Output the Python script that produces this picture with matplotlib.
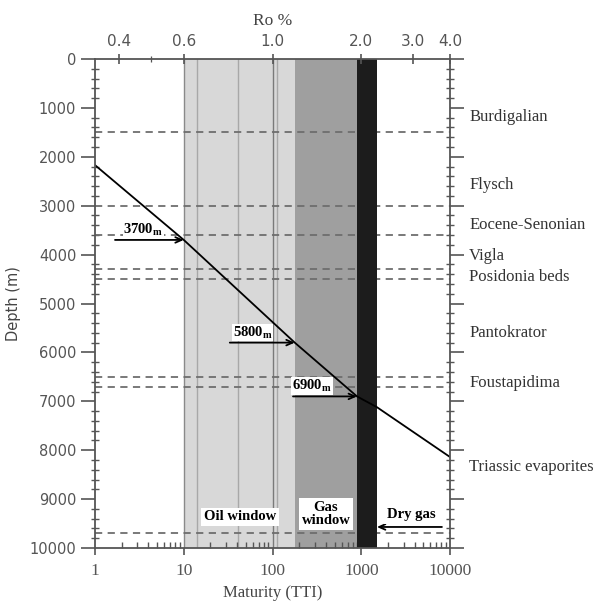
import matplotlib.pyplot as plt
import numpy as np

# burial curve: maturity (TTI) against depth
tti = [1, 10, 178, 895, 1500, 10000]
depth = [2170, 3700, 5800, 6900, 7120, 8140]

# formation tops (dashed) and formation names on the right
tops = [1500, 3000, 3600, 4300, 4500, 6500, 6700, 9700]
formations = ["Burdigalian", "Flysch", "Eocene-Senonian", "Vigla",
              "Posidonia beds", "Pantokrator", "Foustapidima",
              "Triassic evaporites"]
formation_depth = [1186, 2577, 3395, 4030, 4458, 5603, 6626, 8344]

# maturity windows in TTI
oil_window = (10, 178)
gas_window = (178, 895)
dry_gas = (895, 1500)
oil_lines = [14, 41, 100, 112]

# Ro % scale on top, placed at the equivalent TTI
ro_labels = ["0.4", "0.6", "1.0", "2.0", "3.0", "4.0"]
ro_tti = [1.86, 10, 100, 1000, 3830, 10000]
ro_minor = [4.3]

# depths marked with arrows
marks = [3700, 5800, 6900]
mark_tti = [10, 178, 895]

serif = "Liberation Serif"
sans = "DejaVu Sans"

fig = plt.figure(figsize=(6.09, 6.07), dpi=100)
ax = fig.add_axes([0.156, 0.0972, 0.583, 0.8056])

ax.set_xscale("log")
ax.set_xlim(1, 10000)
ax.set_ylim(10000, 0)

ax.axvspan(*oil_window, color="#d8d8d8", lw=0, zorder=1)
ax.axvspan(*gas_window, color="#9f9f9f", lw=0, zorder=1)
for v in oil_lines:
    ax.axvline(v, color="#7a7a7a" if v == 100 else "#a8a8a8", lw=1.0, zorder=1.5)
ax.axvline(oil_window[0], color="#8a8a8a", lw=1.0, zorder=1.5)

for d in tops:
    ax.axhline(d, color="#6e6e6e", lw=1.3, ls=(0, (4, 3)), zorder=2)

ax.axvspan(*dry_gas, color="#1c1c1c", lw=0, zorder=3)

ax.plot(tti, depth, color="black", lw=1.3, zorder=4)

# arrows pointing at the curve
arrow_start = [1.68, 33, 170]
text_x = [3.5, 60, 279]
for d, t, x0, xt in zip(marks, mark_tti, arrow_start, text_x):
    ax.annotate("", xy=(t, d), xytext=(x0, d),
                arrowprops=dict(arrowstyle="->,head_length=0.45,head_width=0.2",
                                color="black", lw=1.3, shrinkA=0, shrinkB=0),
                zorder=5)
    ax.annotate("%d" % d + r"$\mathregular{_m}$", xy=(xt, d), xytext=(0, 1.5),
                textcoords="offset points",
                ha="center", va="bottom", fontsize=10.5, fontweight="bold",
                family=serif, zorder=3.5,
                bbox=dict(facecolor="white", edgecolor="none", pad=0.5))

ax.annotate("", xy=(1500, 9570), xytext=(8100, 9570),
            arrowprops=dict(arrowstyle="->,head_length=0.45,head_width=0.2",
                            color="black", lw=1.3, shrinkA=0, shrinkB=0),
            zorder=5)

box = dict(facecolor="white", edgecolor="none", pad=2)
ax.text(43, 9366, "Oil window", ha="center", va="center", fontsize=10.5,
        fontweight="bold", family=serif, bbox=box, zorder=6)
ax.text(400, 9305, "Gas\nwindow", ha="center", va="center", fontsize=10.5,
        fontweight="bold", family=serif, bbox=box, zorder=6, linespacing=0.95)
ax.text(3650, 9325, "Dry gas", ha="center", va="center", fontsize=10.5,
        fontweight="bold", family=serif, bbox=box, zorder=6)

for name, d in zip(formations, formation_depth):
    ax.text(1.054, d, name, transform=ax.get_yaxis_transform(),
            ha="left", va="center", fontsize=12, family=serif, color="#333333")

# axes and ticks
for s in ax.spines.values():
    s.set_color("#555555")
    s.set_linewidth(1.3)
    s.set_zorder(7)

ax.set_yticks(np.arange(0, 10001, 1000))
ax.set_yticks(np.arange(0, 10001, 200), minor=True)
ax.tick_params(axis="y", which="major", direction="out", length=10, width=1.2,
               left=True, right=True, labelsize=10.5, colors="#555555")
ax.tick_params(axis="y", which="minor", direction="inout", length=6, width=1.0,
               left=True, right=True, color="#555555")
for lab in ax.get_yticklabels():
    lab.set_family(sans)

ax.set_xticks([1, 10, 100, 1000, 10000])
ax.set_xticklabels(["1", "10", "100", "1000", "10000"])
ax.tick_params(axis="x", which="major", direction="out", length=5, width=1.2,
               labelsize=12.5, colors="#555555", pad=6)
ax.tick_params(axis="x", which="minor", direction="in", length=4, width=1.0,
               color="#555555")
for lab in ax.get_xticklabels():
    lab.set_family(serif)

ax.set_xlabel("Maturity (TTI)", fontsize=12, family=serif, color="#444444",
              labelpad=4)
ax.set_ylabel("Depth (m)", fontsize=10.5, family=sans, color="#444444",
              labelpad=6)

top = ax.twiny()
top.set_xscale("log")
top.set_xlim(ax.get_xlim())
top.set_xticks(ro_tti)
top.set_xticklabels(ro_labels)
top.set_xticks(ro_minor, minor=True)
top.tick_params(axis="x", which="major", direction="inout", length=7, width=1.2,
                labelsize=11, colors="#555555", pad=4)
top.tick_params(axis="x", which="minor", direction="inout", length=4, width=0.9,
                color="#555555")
for lab in top.get_xticklabels():
    lab.set_family(sans)
for s in top.spines.values():
    s.set_visible(False)
top.set_xlabel("Ro %", fontsize=12.5, family=serif, color="#444444", labelpad=6)

fig.savefig("out.png", dpi=100)
